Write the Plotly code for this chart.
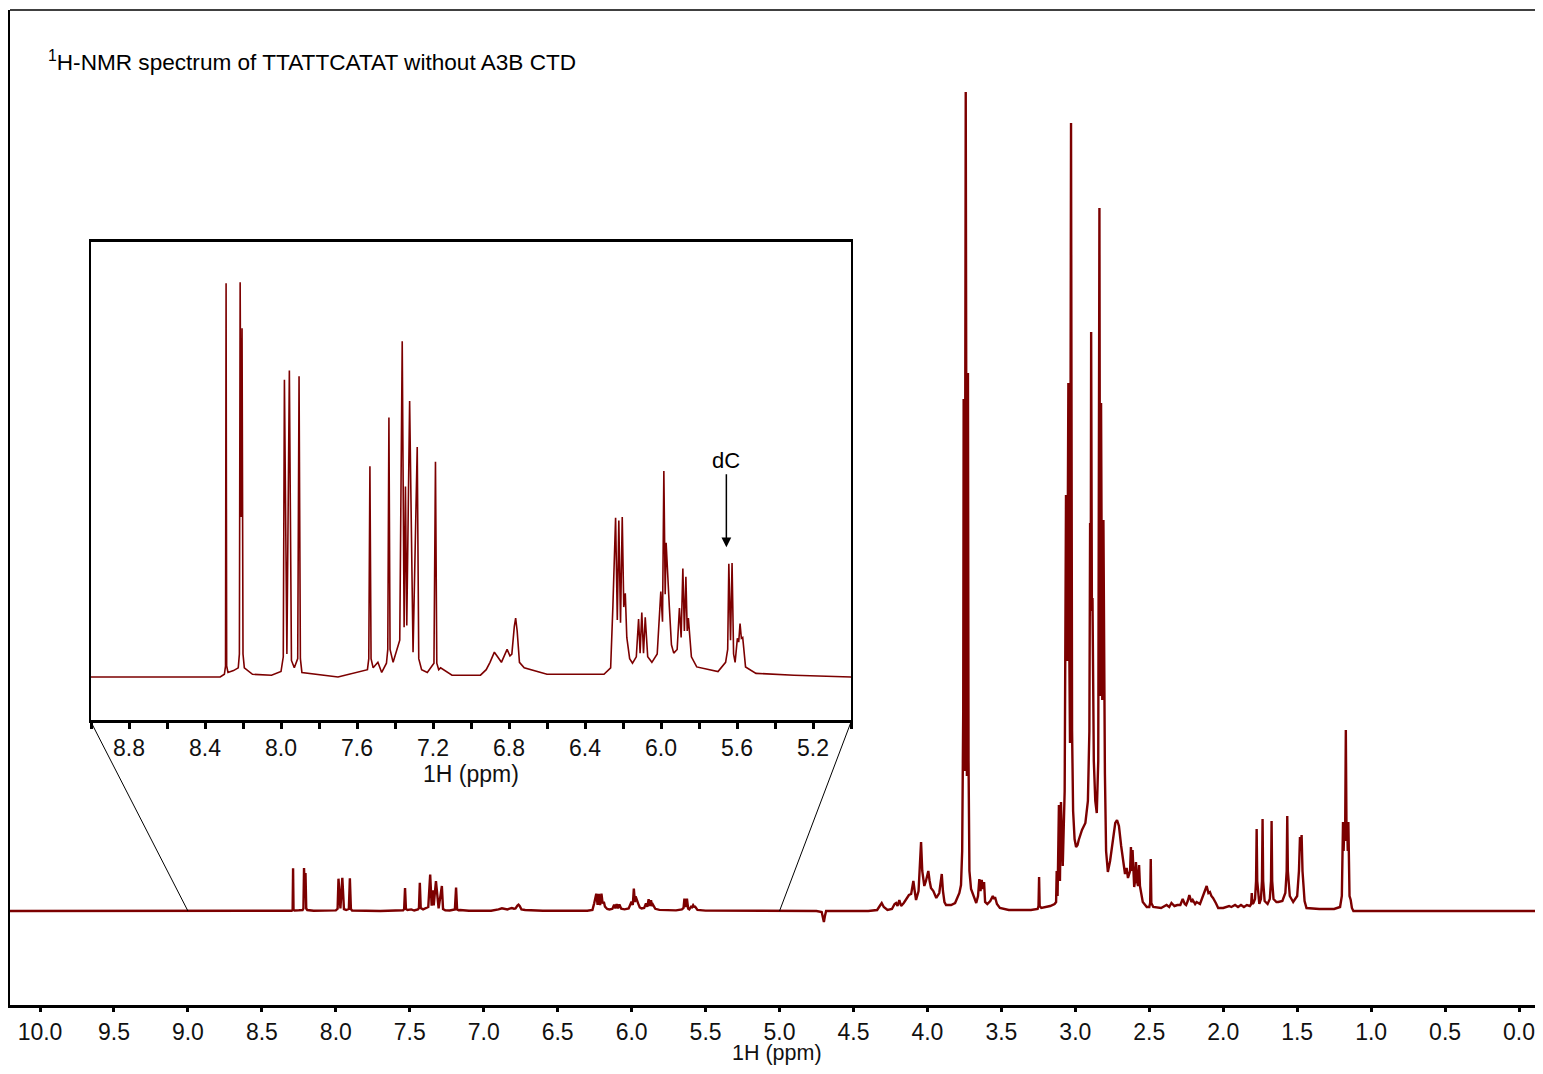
import plotly.graph_objects as go

# ---------------- data (ppm, intensity) ----------------
# downfield region (10.2 - 5.0 ppm)
down_ppm = [10.203, 9.0, 8.320, 8.298, 8.292, 8.289, 8.286, 8.279, 8.250, 8.225, 8.219, 8.215,
            8.210, 8.205, 8.200, 8.193, 8.150, 8.050, 8.000, 7.988, 7.982, 7.969, 7.956,
            7.945, 7.930, 7.912, 7.905, 7.898, 7.890, 7.700, 7.545, 7.538, 7.532, 7.526,
            7.515, 7.490, 7.470, 7.445, 7.438, 7.432, 7.426, 7.410, 7.375, 7.362, 7.352,
            7.345, 7.338, 7.323, 7.305, 7.283, 7.275, 7.260, 7.230, 7.195, 7.187, 7.180,
            7.170, 7.160, 7.100, 6.950, 6.920, 6.900, 6.877, 6.860, 6.840, 6.825, 6.810,
            6.795, 6.785, 6.772, 6.765, 6.757, 6.745, 6.720,
            6.600, 6.300, 6.265, 6.253, 6.239, 6.230, 6.222, 6.213, 6.204, 6.196, 6.188,
            6.180, 6.165, 6.150, 6.130, 6.118, 6.110, 6.101, 6.092, 6.083, 6.070, 6.048,
            6.020, 6.001, 5.992, 5.985, 5.978, 5.973, 5.966, 5.956, 5.945, 5.933, 5.915,
            5.903, 5.894, 5.885, 5.877, 5.869, 5.862, 5.856, 5.840, 5.812, 5.700, 5.660,
            5.649, 5.643, 5.634, 5.626, 5.618, 5.610, 5.598, 5.591, 5.584, 5.577, 5.570,
            5.555, 5.500, 5.300]
down_int = [0.0, 0.0, 0.0, 0.3, 1.2, 42.8, 1.2, 0.5, 0.7, 1.0, 2.5, 42.9,
            17.4, 37.9, 2.5, 1.0, 0.3, 0.2, 0.6, 2.2, 32.3, 2.5, 33.3,
            1.8, 1.0, 2.0, 32.7, 2.0, 0.5, 0.0, 0.8, 2.0, 22.9, 2.0,
            1.0, 1.6, 0.5, 1.5, 3.0, 28.2, 3.0, 1.6, 4.0, 36.5, 5.4,
            20.7, 5.6, 30.0, 2.7, 25.0, 2.0, 0.8, 0.5, 1.5, 23.4, 1.5,
            0.8, 1.0, 0.2, 0.2, 0.8, 1.6, 2.7, 2.2, 1.6, 2.3, 3.0,
            2.3, 2.5, 5.5, 6.4, 5.0, 1.6, 1.0,
            0.3, 0.3, 1.0, 7.8, 17.3, 6.2, 17.0, 5.9, 17.4, 7.6, 9.1,
            4.3, 2.0, 1.5, 2.2, 6.3, 2.6, 7.0, 2.6, 6.5, 2.2, 1.6,
            2.5, 9.3, 6.0, 22.4, 9.0, 14.6, 10.9, 7.6, 3.5, 2.6, 3.0,
            7.5, 4.3, 11.8, 5.0, 10.9, 5.0, 6.4, 2.2, 1.1, 0.6, 1.6,
            3.0, 12.3, 4.0, 12.4, 2.5, 1.6, 4.2, 3.8, 5.8, 4.2, 4.3,
            1.1, 0.4, 0.2]

# middle region (5.0 - 3.0 ppm)
mid_ppm = [5.000, 4.750, 4.715, 4.705, 4.700, 4.693, 4.685, 4.400, 4.340, 4.318, 4.309, 4.295,
           4.270, 4.240, 4.222, 4.212, 4.202, 4.190, 4.178, 4.160, 4.140, 4.125, 4.110,
           4.095, 4.086, 4.077, 4.060, 4.050, 4.043, 4.035, 4.021, 4.010, 3.994, 3.985,
           3.976, 3.960, 3.940, 3.920, 3.910, 3.903, 3.895, 3.885, 3.874, 3.840, 3.813,
           3.795, 3.784, 3.773, 3.765, 3.758, 3.755, 3.748, 3.741, 3.733, 3.726, 3.722,
           3.716, 3.705, 3.690, 3.670, 3.658, 3.649, 3.641, 3.633, 3.625, 3.617, 3.610,
           3.595, 3.575, 3.558, 3.550, 3.543, 3.530, 3.510, 3.450, 3.300, 3.255, 3.249,
           3.245, 3.241, 3.230, 3.200, 3.170, 3.140, 3.130, 3.126, 3.120, 3.111, 3.104,
           3.097, 3.085, 3.072, 3.063, 3.055, 3.047, 3.040, 3.036, 3.029, 3.022, 3.015,
           3.005]
mid_int = [0, 0, -1, -9, -11, -5, 0, 0, 1, 6, 8, 4,
           1, 2, 7, 8, 5, 11, 5, 8, 12, 16, 17,
           30, 20, 11, 20, 45, 69, 40, 25, 30, 40, 30,
           23, 20, 13, 18, 30, 37, 20, 9, 6, 6, 8,
           15, 18, 26, 60, 200, 512, 140, 819, 135, 538, 150,
           40, 22, 16, 8, 15, 32, 20, 31, 22, 29, 9,
           7, 10, 15, 12, 14, 7, 3, 1, 1, 2, 5,
           34, 5, 3, 4, 5, 7, 9, 40, 15, 106, 30,
           109, 45, 120, 416, 250, 528, 250, 168, 788, 180, 100,
           72]

# upfield region (3.0 - -0.16 ppm)
up_ppm = [2.995, 2.985, 2.977, 2.955, 2.932, 2.915, 2.905, 2.900, 2.896, 2.893, 2.888, 2.884,
          2.875, 2.865, 2.855, 2.845, 2.837, 2.832, 2.826, 2.818, 2.810, 2.805, 2.800,
          2.792, 2.780, 2.765, 2.745, 2.730, 2.718, 2.705, 2.690, 2.675, 2.665, 2.659,
          2.653, 2.644, 2.630, 2.624, 2.619, 2.613, 2.607, 2.602, 2.596, 2.590, 2.583,
          2.576, 2.569, 2.563, 2.556, 2.544, 2.517, 2.500, 2.494, 2.490, 2.486, 2.473,
          2.420, 2.383, 2.365, 2.350, 2.330, 2.310, 2.290, 2.274, 2.260, 2.251, 2.240,
          2.229, 2.215, 2.206, 2.190, 2.180, 2.157, 2.145, 2.135, 2.125, 2.112, 2.100,
          2.090, 2.080, 2.069, 2.050, 2.034, 2.000, 1.960, 1.945, 1.920, 1.900, 1.880,
          1.860, 1.840, 1.820, 1.811, 1.807, 1.803, 1.796, 1.785, 1.778, 1.774, 1.770,
          1.762, 1.756, 1.745, 1.738, 1.734, 1.730, 1.720, 1.700, 1.685, 1.677, 1.673,
          1.669, 1.660, 1.640, 1.628, 1.600, 1.580, 1.571, 1.567, 1.563, 1.550, 1.527,
          1.500, 1.488, 1.481, 1.476, 1.470, 1.464, 1.450, 1.437, 1.350, 1.250, 1.210,
          1.198, 1.190, 1.186, 1.181, 1.176, 1.171, 1.166, 1.162, 1.158, 1.154, 1.146,
          1.138, 1.130, 1.120, 1.000, -0.2]
up_int = [64, 66, 71, 81, 88, 110, 180, 388, 300, 579, 300, 313,
          150, 110, 98, 150, 703, 215, 508, 211, 391, 180, 138,
          60, 39, 50, 75, 88, 91, 85, 65, 48, 38, 38,
          43, 33, 40, 64, 40, 61, 35, 24, 30, 49, 30,
          25, 46, 25, 19, 9, 4, 4, 8, 52, 8, 4,
          3, 6, 4, 8, 5, 6, 6, 12, 7, 6, 10,
          16, 9, 11, 7, 9, 7, 12, 16, 20, 25, 18,
          19, 15, 13, 8, 3, 3, 5, 4, 6, 4, 6,
          4, 6, 5, 7, 18, 7, 8, 12, 30, 82, 30,
          10, 7, 12, 30, 92, 30, 10, 7, 12, 30, 90,
          30, 12, 9, 9, 10, 18, 40, 95, 40, 15, 9,
          15, 40, 74, 60, 76, 40, 10, 3, 2, 2, 4,
          15, 89, 60, 86, 70, 181, 70, 88, 60, 89, 15,
          11, 3, 0, 0, 0]

main_tick_step = 0.5
inset_label_step = 0.4
inset_minor_step = 0.2

title_text = "<sup>1</sup>H-NMR spectrum of TTATTCATAT without A3B CTD"
axis_title = "1H (ppm)"
zoom_range = [9.0, 5.0]
dc_label = ("dC", 5.656, 14.1)

# ---------------- figure ----------------
ppm = down_ppm + mid_ppm + up_ppm
inten = down_int + mid_int + up_int

# the page body has an 8 px margin; the figure is sized so it ends at the window edges
OFF = 8
W, H = 1535, 1058
ML, MR, MT, MB = 2, 0, 2, 61
plot_w = W - ML - MR
plot_h = H - MT - MB
px_per_ppm = 147.9
main_xr = [10.203, 10.203 - plot_w / px_per_ppm]
main_yr = [-94, 901]


def sx(px):  # screen x -> paper fraction
    return (px - OFF - ML) / plot_w


def sy(py):  # screen y -> paper fraction
    return (H - MB + OFF - py) / plot_h


inset_dom_x = [sx(91), sx(851)]
inset_dom_y = [sy(720), sy(242)]
inset_yr = [-4.67, 47.28]

red = "#7c0000"
FONT = "Liberation Sans, Arial, sans-serif"

fig = go.Figure()
fig.add_trace(go.Scatter(x=ppm, y=inten, mode="lines", line=dict(color=red, width=2.4),
                         xaxis="x", yaxis="y", hoverinfo="skip", showlegend=False))
fig.add_trace(go.Scatter(x=ppm, y=inten, mode="lines", line=dict(color=red, width=1.6),
                         xaxis="x2", yaxis="y2", hoverinfo="skip", showlegend=False))

tickfont = dict(family=FONT, size=23, color="#111111")
titlefont = dict(family=FONT, size=21.5, color="#111111")

fig.update_layout(
    width=W, height=H,
    margin=dict(l=ML, r=MR, t=MT, b=MB, pad=0),
    paper_bgcolor="white", plot_bgcolor="white",
    showlegend=False,
    xaxis=dict(domain=[0, 1], range=main_xr, tickmode="linear", tick0=0,
               dtick=main_tick_step, tickformat=".1f", ticklabeloverflow="allow",
               ticks="outside", ticklen=4, tickwidth=3, tickcolor="black",
               showline=True, linewidth=3, linecolor="black", showgrid=False,
               zeroline=False, tickfont=tickfont, automargin=False),
    yaxis=dict(domain=[0, 1], range=main_yr, showticklabels=False, ticks="",
               showgrid=False, zeroline=False, showline=True, linewidth=1.5,
               linecolor="black", automargin=False),
    xaxis2=dict(domain=inset_dom_x, anchor="y2", range=zoom_range, tickmode="linear",
                tick0=8.8, dtick=inset_label_step, tickformat=".1f",
                ticks="outside", ticklen=6, tickwidth=2.5, tickcolor="black",
                minor=dict(tick0=9.0, dtick=inset_minor_step, ticks="outside", ticklen=6,
                           tickwidth=2.5, tickcolor="black", showgrid=False),
                showline=True, linewidth=2.5, linecolor="black", mirror=True,
                showgrid=False, zeroline=False, tickfont=tickfont, automargin=False,
                title=dict(text=axis_title, font=tickfont, standoff=2)),
    yaxis2=dict(domain=inset_dom_y, anchor="x2", range=inset_yr, showticklabels=False,
                ticks="", showgrid=False, zeroline=False, showline=True, linewidth=2,
                linecolor="black", mirror=True, automargin=False),
)

# top frame line of the main panel
shapes = [dict(type="line", xref="paper", yref="paper", x0=0, x1=1, y0=1, y1=1,
               line=dict(color="black", width=1.5))]


def main_to_paper(xv, yv):
    fx = (main_xr[0] - xv) / (main_xr[0] - main_xr[1])
    fy = (yv - main_yr[0]) / (main_yr[1] - main_yr[0])
    return fx, fy


# connector lines between the inset and the zoomed region of the main spectrum
for corner_x, ppm_end in ((inset_dom_x[0], zoom_range[0]), (inset_dom_x[1], zoom_range[1])):
    px, py = main_to_paper(ppm_end, 0)
    shapes.append(dict(type="line", xref="paper", yref="paper",
                       x0=corner_x, y0=inset_dom_y[0] - 2 / plot_h, x1=px, y1=py,
                       line=dict(color="black", width=1)))
fig.update_layout(shapes=shapes)

fig.add_annotation(text=title_text, xref="paper", yref="paper", x=sx(46),
                   y=sy(61), xanchor="left", yanchor="middle",
                   showarrow=False, font=dict(family=FONT, size=22.6, color="black"))

# main x-axis title
fig.add_annotation(text=axis_title, xref="paper", yref="paper", x=0.5, y=sy(1053),
                   xanchor="center", yanchor="middle", showarrow=False,
                   font=titlefont)

fig.add_annotation(text=dc_label[0], xref="x2", yref="y2", x=dc_label[1], y=dc_label[2],
                   showarrow=True, arrowhead=2, arrowsize=1.3, arrowwidth=1.5,
                   arrowcolor="black", ax=0, ay=-87,
                   font=dict(family=FONT, size=22, color="black"))

fig.write_html("out.html")
